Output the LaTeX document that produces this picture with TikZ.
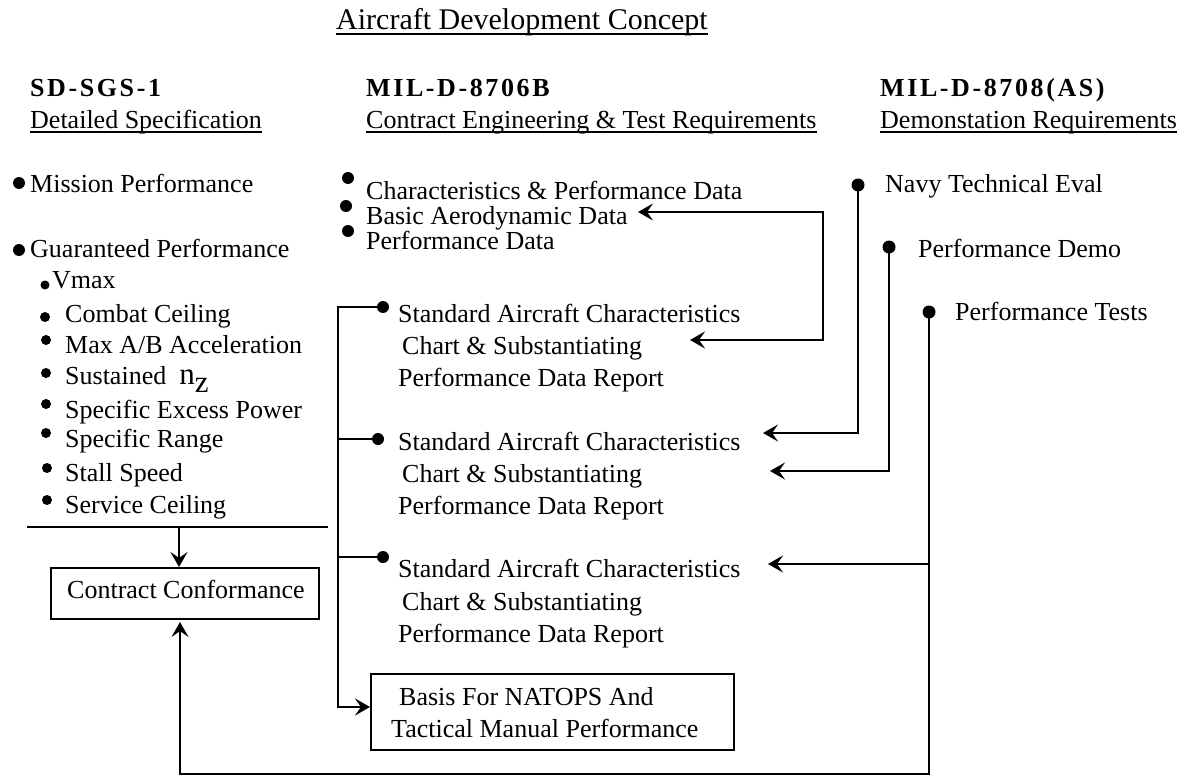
\documentclass[tikz,border=0pt]{standalone}
\usepackage{fontspec}
\setmainfont{Liberation Serif}
\newfontfamily\hdfont{Liberation Serif}[LetterSpace=10]
\usetikzlibrary{arrows.meta}
\begin{document}
\begin{tikzpicture}[x=1pt,y=-1pt,
  txt/.style={anchor=base west, inner sep=0pt, font=\fontsize{26}{32}\selectfont},
  hd/.style={anchor=base west, inner sep=0pt, font=\fontsize{26}{32}\selectfont\hdfont\bfseries},
  ttl/.style={anchor=base west, inner sep=0pt, font=\fontsize{30}{36}\selectfont},
  bul/.style={circle, fill=black, inner sep=0pt, minimum size=#1},
  bul/.default=12pt,
  ln/.style={line width=2pt},
  ul/.style={line width=1.4pt},
  arr/.style={line width=2pt, -{Stealth[length=15pt,width=17pt,inset=6pt]}},
  arrb/.style={line width=2pt, {Stealth[length=15pt,width=17pt,inset=6pt]}-{Stealth[length=15pt,width=17pt,inset=6pt]}},
  boxd/.style={draw, line width=2pt, inner sep=0pt, anchor=north west}
]
\useasboundingbox (0,0) rectangle (1191,778);

% title and headers
\node[ttl] (title) at (336,30) {Aircraft Development Concept};
\draw[ul] ([yshift=-4pt]title.base west) -- ([yshift=-4pt]title.base east);

\node[hd] (h1) at (30,97) {SD-SGS-1};
\node[txt] (u1) at (30,129) {Detailed Specification};
\draw[ul] ([yshift=-3pt]u1.base west) -- ([yshift=-3pt]u1.base east);

\node[hd] (h2) at (366,97) {MIL-D-8706B};
\node[txt] (u2) at (366,129) {Contract Engineering \& Test Requirements};
\draw[ul] ([yshift=-3pt]u2.base west) -- ([yshift=-3pt]u2.base east);

\node[hd] (h3) at (880,97) {MIL-D-8708(AS)};
\node[txt] (u3) at (880,129) {Demonstation Requirements};
\draw[ul] ([yshift=-3pt]u3.base west) -- ([yshift=-3pt]u3.base east);

% left column
\node[bul] (bmp) at (19,183) {};
\node[txt] (mp) at (30,193) {Mission Performance};
\node[bul] (bgp) at (19,250) {};
\node[txt] (gp) at (30,257) {Guaranteed Performance};
\node[bul=9pt] (bvm) at (45,285) {};
\node[txt] (vm) at (52,288) {Vmax};
\node[bul=10pt] (bcb) at (45,317) {};
\node[txt] (cb) at (65,322) {Combat Ceiling};
\node[bul=10pt] (bma) at (46,340) {};
\node[txt] (ma) at (65,353) {Max A/B Acceleration};
\node[bul=10pt] (bsn) at (46,373) {};
\node[txt] (sn) at (65,384) {Sustained\ \ {\fontsize{31}{31}\selectfont n\raisebox{-8pt}{z}}};
\node[bul=10pt] (bse) at (46,404) {};
\node[txt] (se) at (65,418) {Specific Excess Power};
\node[bul=10pt] (bsr) at (46,433) {};
\node[txt] (sr) at (65,447) {Specific Range};
\node[bul=10pt] (bss) at (47,468) {};
\node[txt] (ss) at (65,481) {Stall Speed};
\node[bul=10pt] (bsc) at (47,500) {};
\node[txt] (sc) at (65,513) {Service Ceiling};

\coordinate (hlA) at (27,527);
\coordinate (hlB) at (328,527);
\draw[ln] (hlA) -- (hlB);

\node[boxd, minimum width=268pt, minimum height=51pt] (cc) at (50,567) {};
\node[txt] (cct) at (67,598) {Contract Conformance};
\draw[arr] (179,528) -- (cc.north -| 179,0);

% middle column top
\node[bul] (bcp) at (348,178) {};
\node[txt] (cp) at (366,200) {Characteristics \& Performance Data};
\node[bul] (bba) at (346,206) {};
\node[txt] (ba) at (366,225) {Basic Aerodynamic Data};
\node[bul] (bpd) at (348,231) {};
\node[txt] (pdata) at (366,249) {Performance Data};

% blocks
\node[bul] (s1) at (383,307) {};
\node[txt] (s1a) at (398,322) {Standard Aircraft Characteristics};
\node[txt] (s1b) at (402,354) {Chart \& Substantiating};
\node[txt] (s1c) at (398,386) {Performance Data Report};

\node[bul] (s2) at (378,439) {};
\node[txt] (s2a) at (398,450) {Standard Aircraft Characteristics};
\node[txt] (s2b) at (402,482) {Chart \& Substantiating};
\node[txt] (s2c) at (398,514) {Performance Data Report};

\node[bul] (s3) at (383,557) {};
\node[txt] (s3a) at (398,577) {Standard Aircraft Characteristics};
\node[txt] (s3b) at (402,610) {Chart \& Substantiating};
\node[txt] (s3c) at (398,642) {Performance Data Report};

\node[boxd, minimum width=363pt, minimum height=76pt] (basis) at (370,673) {};
\node[txt] (ba1) at (399,705) {Basis For NATOPS And};
\node[txt] (ba2) at (391,737) {Tactical Manual Performance};

\coordinate (vtop) at (338,307);
\coordinate (vbot) at (338,707);
\draw[arr] (s1.center) -- (vtop) -- (vbot) -- (basis.west |- vbot);
\draw[ln] (338,439) -- (s2.center);
\draw[ln] (338,557) -- (s3.center);

% right column
\node[bul=13pt] (bnv) at (858,185) {};
\node[txt] (nv) at (885,193) {Navy Technical Eval};
\node[bul=13pt] (bpdm) at (889,247) {};
\node[txt] (pdm) at (918,257) {Performance Demo};
\node[bul=13pt] (bpt) at (929,312) {};
\node[txt] (pt) at (955,320) {Performance Tests};

\coordinate (t1) at (638,212);
\coordinate (t2) at (690,340);
\coordinate (t3) at (763,433);
\coordinate (t4) at (770,471);
\coordinate (t5) at (768,564);

\draw[arrb] (t1) -- (823,212) -- (823,340) -- (t2);
\draw[arr] (bnv.center) -- (858,433) -- (t3);
\draw[arr] (bpdm.center) -- (889,471) -- (t4);
\draw[arr] (bpt.center) -- (929,774) -- (180,774) -- ([yshift=-2pt]cc.south -| 180,0);
\draw[arr] (929,564) -- (t5);
\end{tikzpicture}
\end{document}
